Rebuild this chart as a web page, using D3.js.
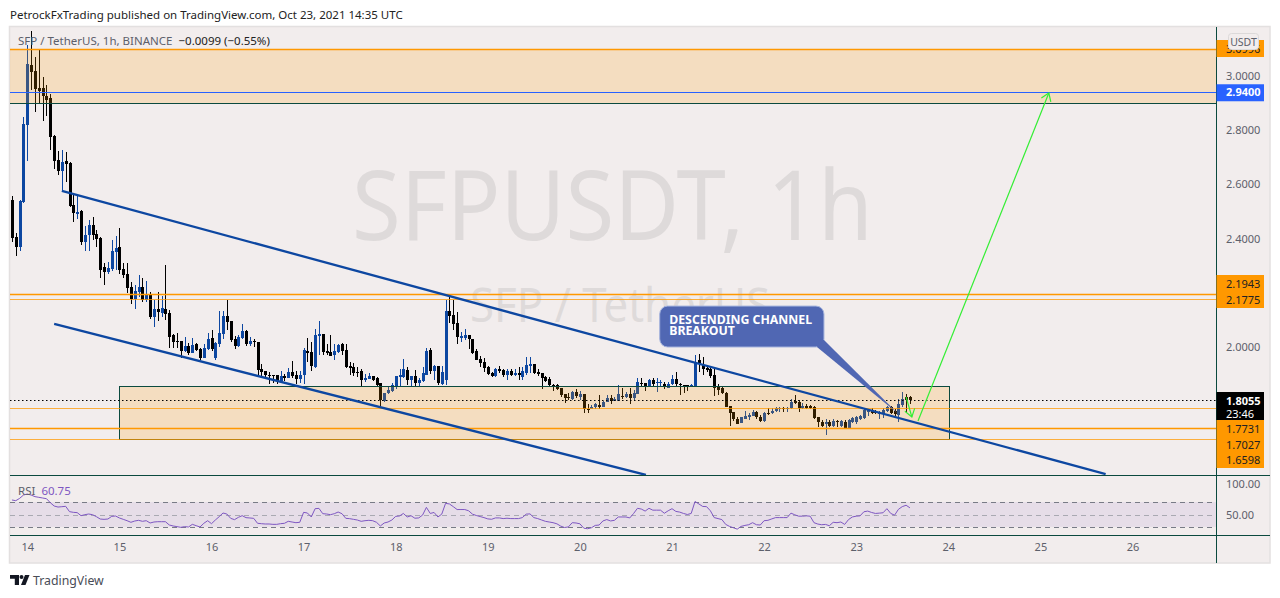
<!DOCTYPE html>
<html>
<head>
<meta charset="utf-8">
<script src="https://cdn.jsdelivr.net/npm/d3@7"></script>
<style>
html, body { margin: 0; padding: 0; background: #fff; }
svg { display: block; }
text { font-family: "Noto Sans", sans-serif; }
</style>
</head>
<body>
<div id="chart"></div>
<script>
// hourly candles, first one is Oct 13 20:00 UTC
var opens = [2.542,2.406,2.369,2.536,2.82,3.04,3.018,2.955,2.956,2.926,
2.919,2.779,2.69,2.65,2.686,2.68,2.524,2.49,2.502,2.388,
2.413,2.45,2.417,2.402,2.294,2.277,2.287,2.35,2.37,2.288,
2.27,2.22,2.177,2.202,2.223,2.173,2.196,2.11,2.14,2.126,
2.14,2.124,2.045,2.022,2.022,1.985,2.004,1.979,2.012,1.991,
1.96,1.991,2.032,1.958,2.012,2.048,2.114,2.096,2.03,2.004,
2.032,2.06,2.012,2.022,2.019,1.919,1.91,1.897,1.897,1.897,
1.875,1.893,1.887,1.908,1.895,1.882,1.895,1.987,1.981,1.926,
2.04,2.048,1.985,1.983,1.97,1.98,2.01,1.989,1.93,1.925,
1.908,1.912,1.878,1.882,1.893,1.885,1.866,1.802,1.829,1.837,
1.856,1.89,1.888,1.915,1.878,1.893,1.866,1.874,1.896,1.989,
1.912,1.93,1.863,1.878,2.133,2.118,2.09,2.035,2.032,2.044,
2.029,1.986,1.956,1.946,1.927,1.903,1.893,1.917,1.915,1.896,
1.912,1.896,1.903,1.89,1.903,1.93,1.937,1.908,1.905,1.889,
1.882,1.861,1.858,1.85,1.825,1.815,1.807,1.833,1.816,1.826,
1.773,1.772,1.777,1.786,1.78,1.797,1.81,1.802,1.802,1.82,
1.814,1.825,1.81,1.826,1.869,1.869,1.853,1.88,1.866,1.866,
1.865,1.847,1.863,1.882,1.865,1.859,1.858,1.851,1.856,1.952,
1.933,1.923,1.918,1.896,1.851,1.847,1.831,1.784,1.761,1.736,
1.718,1.733,1.743,1.745,1.761,1.743,1.728,1.757,1.755,1.764,
1.772,1.774,1.772,1.774,1.8,1.796,1.776,1.783,1.781,1.78,
1.74,1.724,1.716,1.724,1.708,1.727,1.71,1.724,1.7,1.722,
1.724,1.734,1.737,1.761,1.767,1.762,1.753,1.751,1.765,1.777,
1.764,1.749,1.786,1.817,1.8154];

var closes = [2.402,2.369,2.539,2.823,3.044,3.016,2.952,2.945,2.926,2.911,
2.776,2.687,2.65,2.684,2.677,2.52,2.494,2.5,2.388,2.413,
2.45,2.413,2.399,2.284,2.277,2.293,2.354,2.365,2.284,2.266,
2.217,2.176,2.208,2.223,2.173,2.196,2.11,2.14,2.129,2.145,
2.12,2.036,2.019,2.019,1.985,2.004,1.979,2.008,1.99,1.958,
1.996,2.03,1.993,2.016,2.05,2.114,2.094,2.026,2.004,2.038,
2.06,2.012,2.022,2.018,1.915,1.907,1.897,1.895,1.895,1.875,
1.893,1.887,1.908,1.893,1.882,1.897,1.99,1.979,1.93,2.044,
2.047,1.983,1.979,1.968,1.985,2.008,1.986,1.925,1.924,1.903,
1.903,1.878,1.887,1.893,1.88,1.86,1.804,1.832,1.841,1.86,
1.893,1.896,1.917,1.878,1.893,1.866,1.88,1.903,1.986,1.912,
1.93,1.866,1.908,2.133,2.115,2.085,2.038,2.04,2.044,2.028,
1.979,1.952,1.942,1.922,1.9,1.893,1.917,1.911,1.896,1.912,
1.896,1.904,1.898,1.911,1.933,1.937,1.903,1.9,1.887,1.874,
1.858,1.855,1.845,1.823,1.81,1.81,1.835,1.82,1.826,1.77,
1.77,1.78,1.788,1.78,1.798,1.81,1.802,1.807,1.826,1.814,
1.825,1.81,1.829,1.872,1.866,1.853,1.878,1.863,1.872,1.872,
1.851,1.865,1.882,1.863,1.862,1.856,1.853,1.861,1.945,1.942,
1.918,1.915,1.893,1.847,1.843,1.829,1.779,1.757,1.733,1.715,
1.743,1.746,1.749,1.761,1.74,1.728,1.757,1.751,1.765,1.774,
1.774,1.772,1.775,1.798,1.792,1.774,1.783,1.776,1.775,1.737,
1.722,1.71,1.722,1.71,1.728,1.722,1.728,1.7,1.73,1.737,
1.742,1.744,1.767,1.767,1.755,1.755,1.761,1.767,1.78,1.758,
1.751,1.79,1.807,1.804,1.8055];

var highs = [2.557,2.42,2.541,2.849,3.114,3.166,3.071,3.1,2.997,2.967,
2.934,2.782,2.724,2.727,2.72,2.682,2.56,2.56,2.505,2.446,
2.468,2.48,2.432,2.405,2.31,2.315,2.395,2.41,2.44,2.309,
2.309,2.241,2.229,2.266,2.254,2.244,2.204,2.173,2.204,2.188,
2.303,2.137,2.048,2.05,2.022,2.036,2.016,2.032,2.016,1.995,
2.012,2.05,2.063,2.02,2.134,2.134,2.173,2.096,2.042,2.046,
2.085,2.063,2.038,2.03,2.019,1.937,1.91,1.907,1.897,1.897,
1.91,1.902,1.922,1.949,1.91,1.913,1.998,2.032,2.017,2.066,
2.095,2.048,2.012,2.044,2.01,2.012,2.013,2.011,1.943,1.94,
1.925,1.92,1.9,1.905,1.893,1.888,1.866,1.832,1.853,1.866,
1.893,1.917,1.955,1.925,1.893,1.915,1.884,1.925,1.995,1.995,
1.933,1.93,1.93,2.173,2.188,2.173,2.13,2.056,2.065,2.044,
2.029,1.992,1.967,1.958,1.93,1.909,1.921,1.93,1.917,1.919,
1.917,1.917,1.927,1.925,1.963,1.962,1.937,1.917,1.905,1.893,
1.888,1.863,1.863,1.85,1.825,1.831,1.838,1.845,1.838,1.826,
1.789,1.786,1.794,1.822,1.8,1.822,1.822,1.816,1.859,1.847,
1.835,1.847,1.843,1.884,1.884,1.869,1.882,1.884,1.884,1.88,
1.872,1.872,1.896,1.909,1.869,1.859,1.858,1.863,1.97,1.976,
1.964,1.933,1.927,1.921,1.863,1.851,1.835,1.784,1.761,1.743,
1.743,1.765,1.757,1.767,1.765,1.749,1.761,1.774,1.774,1.777,
1.777,1.777,1.78,1.808,1.823,1.804,1.792,1.79,1.787,1.782,
1.74,1.73,1.733,1.73,1.735,1.73,1.73,1.73,1.733,1.743,
1.746,1.749,1.771,1.77,1.774,1.767,1.765,1.774,1.782,1.782,
1.77,1.807,1.833,1.825,1.82];

var lows = [2.387,2.337,2.355,2.53,2.687,2.948,2.868,2.9,2.835,2.852,
2.727,2.657,2.635,2.58,2.61,2.515,2.462,2.472,2.376,2.355,
2.355,2.395,2.37,2.256,2.229,2.27,2.28,2.285,2.27,2.254,
2.198,2.159,2.14,2.186,2.165,2.165,2.102,2.073,2.096,2.11,
2.1,1.995,1.998,1.995,1.96,1.983,1.97,1.977,1.986,1.952,
1.958,1.989,1.987,1.952,2.0,2.03,2.063,2.02,1.991,2.0,
2.03,2.002,2.002,2.0,1.897,1.888,1.89,1.865,1.868,1.863,
1.868,1.875,1.887,1.887,1.865,1.868,1.865,1.945,1.91,1.921,
1.97,1.97,1.97,1.968,1.952,1.977,1.97,1.921,1.896,1.893,
1.89,1.856,1.872,1.882,1.874,1.853,1.782,1.796,1.826,1.835,
1.844,1.856,1.884,1.86,1.856,1.856,1.856,1.872,1.896,1.9,
1.878,1.86,1.86,1.86,2.087,2.062,2.011,2.017,2.026,1.992,
1.974,1.952,1.925,1.909,1.896,1.89,1.89,1.905,1.888,1.878,
1.893,1.893,1.878,1.88,1.896,1.903,1.9,1.893,1.845,1.872,
1.856,1.837,1.841,1.817,1.794,1.804,1.804,1.81,1.804,1.757,
1.755,1.77,1.773,1.773,1.78,1.797,1.789,1.802,1.802,1.808,
1.81,1.789,1.804,1.826,1.853,1.837,1.851,1.856,1.835,1.856,
1.845,1.847,1.859,1.853,1.822,1.832,1.838,1.851,1.856,1.909,
1.896,1.909,1.884,1.819,1.822,1.826,1.779,1.708,1.728,1.715,
1.718,1.733,1.73,1.745,1.736,1.724,1.724,1.749,1.751,1.761,
1.761,1.759,1.759,1.77,1.788,1.761,1.77,1.771,1.771,1.734,
1.706,1.706,1.676,1.703,1.706,1.706,1.706,1.7,1.7,1.718,
1.715,1.73,1.733,1.745,1.753,1.753,1.734,1.739,1.761,1.751,
1.746,1.722,1.78,1.76,1.79];

var rsiValues = [73.4,72.3,76,81.4,83,81.4,78.8,77.7,76.6,75.5,
69,63.7,62,62.6,63.2,54.6,53.5,53,48.1,49.7,
50.8,49.7,46.5,42.7,42.2,42.7,47,47.6,44.4,42.2,
40,37.4,39.5,40.6,39,40,36.3,37.9,38.4,38.4,
38.4,33.1,31.5,30.4,29.3,30.4,29.8,34.1,32,29.8,
35.8,40,35.2,41.1,46.5,52.4,50.8,43.8,41.7,45.4,
48.1,44.9,44.4,43.8,35.8,35.2,34.7,34.7,34.1,34.1,
35.2,35.8,39,37.9,36.8,37.4,53.5,52.4,46,59.4,
59.9,51.3,50.8,49.7,51.3,54,51.3,43.8,43.3,42.2,
41.1,39,40,40.6,40,37.4,31.5,36.3,37.9,41.1,
47,47.6,51.7,46,48,44,44.5,49,61.5,51.7,
53.3,46,50.6,68,67,62.7,58,58,58,56,
50.6,48.4,46.7,45,42.9,42.3,44.5,44.5,43.4,44,
43.4,43.4,43.4,45,50.6,51,45,43.4,41.2,39,
37.9,36.8,35,31.3,29,30,36.8,36.3,35,28,
27,28.6,32.4,33,39.6,41.8,39.6,40.6,46,46,
46,44.5,51.7,60,58.8,55.5,60,57,57,57,
52,56,59.4,55,53.9,51.7,50,51.7,71,67,
63,62.7,56,45,43.4,41.8,34,30.8,28.6,26.4,
30.8,32.4,33.5,36.8,33.5,33,40,40.6,42.9,45,
45,45,45,52.2,49.5,47.3,47.3,47.8,47.3,36.8,
34.6,33.5,34,31.9,37.4,36.8,37.9,34,41.8,46,
47.3,47.8,54.4,55.5,53.3,51.7,52.2,52.8,59.4,51.7,
48.9,58.3,62.7,64.9,60.75];

var priceTicks = [3.0, 2.8, 2.6, 2.4, 2.2, 2.0, 1.8];
var rsiTicks = [100, 50];

// horizontal levels
var topZone = [3.0996, 2.899];
var blueLevel = 2.94;
var orangeLevels = [2.1943, 2.1775, 1.7731, 1.7027, 1.6598];
var orangeWidths = [1.5, 1, 1, 1.5, 1];
var lastPrice = 1.8055;

// drawings, hours counted from Oct 14 00:00 UTC
var boxHours = [24, 240.3];
var boxPrices = [1.856, 1.6598];
var upperChannelHours = [9, 281];
var upperChannelPrices = [2.576, 1.531];
var lowerChannelHours = [7, 161.2];
var lowerChannelPrices = [2.085, 1.528];
var longArrowHours = [232.1, 266.2];
var longArrowPrices = [1.727, 2.937];
var shortArrowHours = [229, 230.5];
var shortArrowPrices = [1.8155, 1.742];
var calloutHours = [164.8, 207.6];
var calloutPrices = [2.151, 2.0];
var calloutTip = [227, 1.7528];

var ORANGE = "#ff9800";
var DARK_GREEN = "#0b4a3f";
var BG = "#f2eded";
var BLUE_CANDLE = "#0d47a1";
var GRAY_TEXT = "#5d606b";

var width = 1280, height = 598;
var plotLeft = 10, plotRight = 1216, frameRight = 1270;
var plotTop = 27, paneBottom = 475, rsiBottom = 535, frameBottom = 563;

var t0 = new Date(Date.UTC(2021, 9, 14));

function hour(h) {
    return new Date(t0.getTime() + h * 3600000);
}

var x = d3.scaleUtc()
    .domain([hour(0), hour(240)])
    .range([27.3, 948.3]);
var y = d3.scaleLinear().domain([3, 2]).range([76, 347]);
var yRsi = d3.scaleLinear().domain([100, 50]).range([483.5, 514.5]);

var svg = d3.select("#chart").append("svg")
    .attr("width", width)
    .attr("height", height);

var defs = svg.append("defs");
defs.append("clipPath").attr("id", "price-clip").append("rect")
    .attr("x", plotLeft).attr("y", plotTop)
    .attr("width", plotRight - plotLeft).attr("height", paneBottom - plotTop);

svg.append("text")
    .attr("x", 10).attr("y", 19)
    .attr("font-size", 11.5)
    .attr("fill", "#222")
    .text("PetrockFxTrading published on TradingView.com, Oct 23, 2021 14:35 UTC");

// frame
svg.append("rect")
    .attr("x", 9.5).attr("y", 26.5)
    .attr("width", frameRight - 9.5).attr("height", frameBottom - 26.5)
    .attr("fill", BG)
    .attr("stroke", "#e3e0e0")
    .attr("stroke-width", 1.5);

// watermark
svg.append("text")
    .attr("x", 352).attr("y", 240)
    .attr("font-size", 96)
    .attr("textLength", 521)
    .attr("lengthAdjust", "spacingAndGlyphs")
    .attr("fill", "#dedada")
    .text("SFPUSDT, 1h");
svg.append("text")
    .attr("x", 470).attr("y", 322)
    .attr("font-size", 48)
    .attr("textLength", 300)
    .attr("lengthAdjust", "spacingAndGlyphs")
    .attr("fill", "#dedada")
    .text("SFP / TetherUS");

var pricePane = svg.append("g").attr("clip-path", "url(#price-clip)");

// candles
var candles = pricePane.selectAll("g.candle")
    .data(d3.range(opens.length))
    .enter().append("g")
    .attr("class", "candle")
    .attr("shape-rendering", "crispEdges")
    .attr("fill", function (i) { return closes[i] >= opens[i] ? BLUE_CANDLE : "#000"; });

candles.append("rect")
    .attr("x", function (i) { return Math.round(x(hour(i - 4))); })
    .attr("width", 1)
    .attr("y", function (i) { return y(highs[i]); })
    .attr("height", function (i) { return y(lows[i]) - y(highs[i]); });

candles.append("rect")
    .attr("x", function (i) { return Math.round(x(hour(i - 4))) - 1; })
    .attr("width", 3)
    .attr("y", function (i) { return y(Math.max(opens[i], closes[i])); })
    .attr("height", function (i) { return Math.max(1, Math.abs(y(opens[i]) - y(closes[i]))); });

// top zone
pricePane.append("rect")
    .attr("x", plotLeft)
    .attr("width", plotRight - plotLeft)
    .attr("y", y(topZone[0]))
    .attr("height", y(topZone[1]) - y(topZone[0]))
    .attr("fill", ORANGE)
    .attr("fill-opacity", 0.19);

// lower box
pricePane.append("rect")
    .attr("x", x(hour(boxHours[0])))
    .attr("width", x(hour(boxHours[1])) - x(hour(boxHours[0])))
    .attr("y", y(boxPrices[0]))
    .attr("height", y(boxPrices[1]) - y(boxPrices[0]))
    .attr("fill", ORANGE)
    .attr("fill-opacity", 0.19)
    .attr("stroke", DARK_GREEN)
    .attr("stroke-width", 1)
    .attr("shape-rendering", "crispEdges");

function hLine(price, color, w, opacity) {
    pricePane.append("line")
        .attr("x1", plotLeft).attr("x2", plotRight)
        .attr("y1", Math.round(y(price)) + 0.5).attr("y2", Math.round(y(price)) + 0.5)
        .attr("stroke", color)
        .attr("stroke-opacity", opacity || 1)
        .attr("stroke-width", w);
}

hLine(topZone[0], ORANGE, 1.5);
hLine(topZone[1], DARK_GREEN, 1);
hLine(blueLevel, "#2962ff", 1);
orangeLevels.forEach(function (p, i) {
    hLine(p, ORANGE, orangeWidths[i], orangeWidths[i] === 1 ? 0.75 : 1);
});

pricePane.append("line")
    .attr("x1", plotLeft).attr("x2", plotRight)
    .attr("y1", Math.round(y(lastPrice)) + 0.5).attr("y2", Math.round(y(lastPrice)) + 0.5)
    .attr("stroke", "#000")
    .attr("stroke-dasharray", "1.5 2.5");

// channel
function channel(hours, prices) {
    pricePane.append("line")
        .attr("x1", x(hour(hours[0]))).attr("y1", y(prices[0]))
        .attr("x2", x(hour(hours[1]))).attr("y2", y(prices[1]))
        .attr("stroke", BLUE_CANDLE)
        .attr("stroke-width", 2.3);
}
channel(upperChannelHours, upperChannelPrices);
channel(lowerChannelHours, lowerChannelPrices);

// callout
var calloutG = pricePane.append("g");
var cx0 = x(hour(calloutHours[0])), cx1 = x(hour(calloutHours[1]));
var cy0 = y(calloutPrices[0]), cy1 = y(calloutPrices[1]);
calloutG.append("rect")
    .attr("x", cx0).attr("y", cy0)
    .attr("width", cx1 - cx0).attr("height", cy1 - cy0)
    .attr("rx", 8)
    .attr("fill", "#5067b3")
    .attr("stroke", "#a4b3dd");
calloutG.append("path")
    .attr("d", "M" + (cx1 - 7) + "," + cy1 + "L" + x(hour(calloutTip[0])) + "," + y(calloutTip[1]) + "L" + cx1 + "," + (cy1 - 7) + "L" + (cx1 - 4) + "," + (cy1 - 8) + "Z")
    .attr("fill", "#5067b3");
calloutG.append("text")
    .attr("x", cx0 + 9.5).attr("y", cy0 + 18)
    .attr("font-size", 12.3)
    .attr("font-weight", "bold")
    .attr("fill", "#fff")
    .text("DESCENDING CHANNEL");
calloutG.append("text")
    .attr("x", cx0 + 9.5).attr("y", cy0 + 29)
    .attr("font-size", 12.3)
    .attr("font-weight", "bold")
    .attr("fill", "#fff")
    .text("BREAKOUT");

// green arrows
function arrow(hours, prices, headLen) {
    var x1 = x(hour(hours[0])), y1 = y(prices[0]);
    var x2 = x(hour(hours[1])), y2 = y(prices[1]);
    var a = Math.atan2(y2 - y1, x2 - x1);
    var g = pricePane.append("g")
        .attr("fill", "none")
        .attr("stroke", "#33ee33")
        .attr("stroke-width", 1.2);
    g.append("line").attr("x1", x1).attr("y1", y1).attr("x2", x2).attr("y2", y2);
    g.append("path").attr("d",
        "M" + (x2 - headLen * Math.cos(a - 0.6)) + "," + (y2 - headLen * Math.sin(a - 0.6)) +
        "L" + x2 + "," + y2 +
        "L" + (x2 - headLen * Math.cos(a + 0.6)) + "," + (y2 - headLen * Math.sin(a + 0.6)));
}
arrow(longArrowHours, longArrowPrices, 9);
arrow(shortArrowHours, shortArrowPrices, 9);

// legend
var legend = svg.append("text").attr("x", 18).attr("y", 45).attr("font-size", 11.5);
legend.append("tspan").attr("fill", GRAY_TEXT).text("SFP / TetherUS, 1h, BINANCE");
legend.append("tspan").attr("fill", "#222").attr("dx", 6).text("\u22120.0099 (\u22120.55%)");

// RSI pane
var rsiPane = svg.append("g");
rsiPane.append("rect")
    .attr("x", plotLeft).attr("width", plotRight - plotLeft)
    .attr("y", yRsi(70)).attr("height", yRsi(30) - yRsi(70))
    .attr("fill", "#7e57c2").attr("fill-opacity", 0.1);
[70, 50, 30].forEach(function (v) {
    rsiPane.append("line")
        .attr("x1", plotLeft).attr("x2", plotRight)
        .attr("y1", Math.round(yRsi(v)) + 0.5).attr("y2", Math.round(yRsi(v)) + 0.5)
        .attr("stroke", v === 50 ? "#a9a9b2" : "#787b86")
        .attr("stroke-dasharray", "5 4");
});
var rsiLine = d3.line()
    .x(function (d, i) { return x(hour(i - 4)); })
    .y(function (d) { return yRsi(d); });
rsiPane.append("path")
    .attr("d", rsiLine(rsiValues))
    .attr("fill", "none")
    .attr("stroke", "#7e57c2")
    .attr("stroke-width", 1);
var rsiLegend = svg.append("text").attr("x", 18).attr("y", 495).attr("font-size", 11.5);
rsiLegend.append("tspan").attr("fill", GRAY_TEXT).text("RSI");
rsiLegend.append("tspan").attr("fill", "#7e57c2").attr("dx", 6).text(rsiValues[rsiValues.length - 1].toFixed(2));

// separators
function sep(x1, y1, x2, y2) {
    svg.append("line")
        .attr("x1", x1).attr("y1", y1).attr("x2", x2).attr("y2", y2)
        .attr("stroke", DARK_GREEN)
        .attr("shape-rendering", "crispEdges");
}
sep(plotLeft, paneBottom, frameRight, paneBottom);
sep(plotLeft, rsiBottom, frameRight, rsiBottom);
sep(plotRight, plotTop, plotRight, frameBottom);

// axes
function styleAxis(g) {
    g.select(".domain").remove();
    g.selectAll("line").remove();
    g.selectAll("text")
        .attr("font-size", 11)
        .attr("fill", GRAY_TEXT)
        .style("font-family", '"Noto Sans", sans-serif');
}

svg.append("g")
    .attr("transform", "translate(0," + 535 + ")")
    .call(d3.axisBottom(x)
        .tickValues(d3.utcDay.range(hour(0), hour(12 * 24 + 1)))
        .tickFormat(d3.utcFormat("%-d"))
        .tickSize(0)
        .tickPadding(8))
    .call(styleAxis);

svg.append("g")
    .attr("transform", "translate(1226,0)")
    .call(d3.axisRight(y).tickValues(priceTicks).tickFormat(d3.format(".4f")).tickSize(0).tickPadding(0))
    .call(styleAxis);

svg.append("g")
    .attr("transform", "translate(1226,0)")
    .call(d3.axisRight(yRsi).tickValues(rsiTicks).tickFormat(d3.format(".2f")).tickSize(0).tickPadding(0))
    .call(styleAxis);

// price labels
function labelBox(y0, y1, fill) {
    svg.append("rect")
        .attr("x", plotRight + 0.5).attr("y", y0)
        .attr("width", 47.5).attr("height", y1 - y0)
        .attr("fill", fill);
}
function labelText(cy, str, fill, weight) {
    svg.append("text")
        .attr("x", 1226).attr("y", cy)
        .attr("dy", "0.35em")
        .attr("font-size", 11)
        .attr("font-weight", weight || "normal")
        .attr("fill", fill)
        .text(str);
}

labelBox(y(topZone[0]) - 9, y(topZone[0]) + 8, ORANGE);
labelText(y(topZone[0]), topZone[0].toFixed(4), "#222");
labelBox(y(blueLevel) - 8, y(blueLevel) + 9, "#2962ff");
labelText(y(blueLevel), blueLevel.toFixed(4), "#fff", "bold");

labelBox(275, 308, ORANGE);
labelText(284.5, orangeLevels[0].toFixed(4), "#222");
labelText(300, orangeLevels[1].toFixed(4), "#222");

labelBox(392, 420, "#000");
labelText(401, lastPrice.toFixed(4), "#fff", "bold");
labelText(414, "23:46", "#fff");

labelBox(420, 468, ORANGE);
labelText(429.5, orangeLevels[2].toFixed(4), "#222");
labelText(445, orangeLevels[3].toFixed(4), "#222");
labelText(460, orangeLevels[4].toFixed(4), "#222");

// currency badge
svg.append("rect")
    .attr("x", 1228.5).attr("y", 33.5)
    .attr("width", 30).attr("height", 16)
    .attr("rx", 3)
    .attr("fill", BG)
    .attr("stroke", "#dcd9d9");
svg.append("text")
    .attr("x", 1243.5).attr("y", 45.5)
    .attr("text-anchor", "middle")
    .attr("font-size", 10.5)
    .attr("fill", GRAY_TEXT)
    .text("USDT");

// TradingView logo
var logo = svg.append("g").attr("fill", "#131722");
logo.append("path").attr("d", "M10 575h9v10h-4.2v-6.2H10z");
logo.append("circle").attr("cx", 21.5).attr("cy", 577).attr("r", 2);
logo.append("path").attr("d", "M25 575h4.5l-4 10h-4.5z");
svg.append("text")
    .attr("x", 33).attr("y", 585)
    .attr("font-size", 12.3)
    .attr("fill", "#4a4d57")
    .text("TradingView");
</script>
</body>
</html>
